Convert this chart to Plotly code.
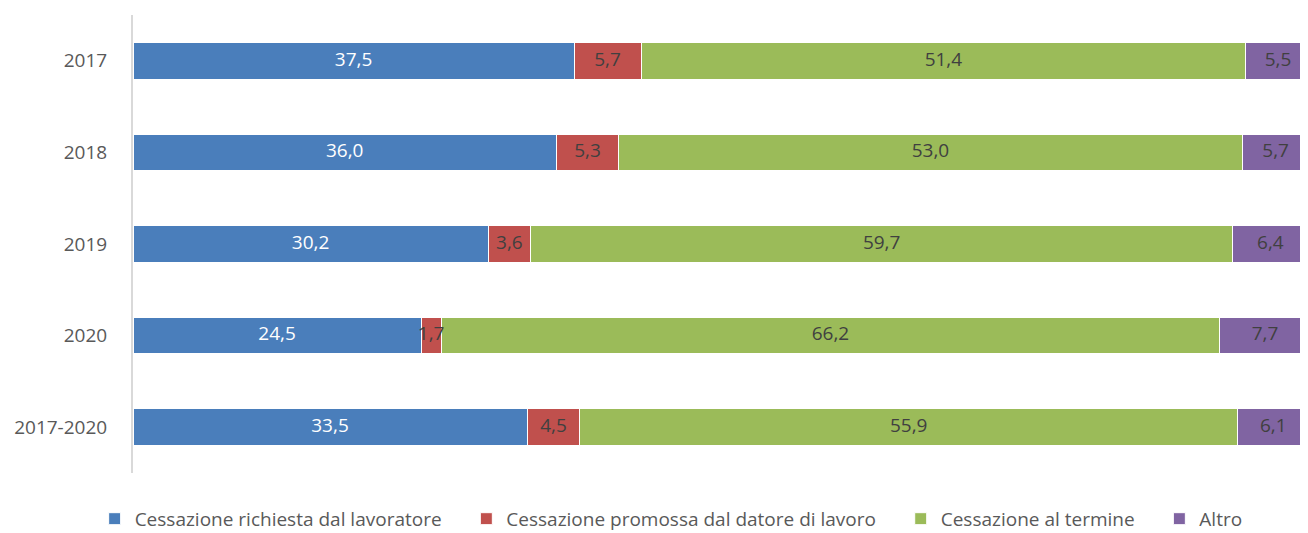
import plotly.graph_objects as go
import numpy as np

categories = ["2017", "2018", "2019", "2020", "2017-2020"]
series_names = [
    "Cessazione richiesta dal lavoratore",
    "Cessazione promossa dal datore di lavoro",
    "Cessazione al termine",
    "Altro",
]
richiesta = [37.5, 36.0, 30.2, 24.5, 33.5]
promossa = [5.7, 5.3, 3.6, 1.7, 4.5]
termine = [51.4, 53.0, 59.7, 66.2, 55.9]
altro = [5.5, 5.7, 6.4, 7.7, 6.1]

colors = ["#4A7EBB", "#C0504D", "#9BBB59", "#8064A2"]
label_colors = ["#FFFFFF", "#404040", "#404040", "#404040"]
FONT = "Open Sans"
PAD = "\u00a0" * 4

fig = go.Figure()
all_series = [richiesta, promossa, termine, altro]
for i, (name, vals, col) in enumerate(zip(series_names, all_series, colors)):
    fig.add_trace(go.Bar(
        y=categories, x=vals, name=name + (PAD if i < 3 else ""), orientation="h",
        marker=dict(color=col, line=dict(color="#FFFFFF", width=1)),
        width=0.40, hoverinfo="x+name",
    ))

base = np.zeros(len(categories))
for vals, tcol in zip(all_series, label_colors):
    v = np.array(vals)
    mids = base + v / 2
    base = base + v
    fig.add_trace(go.Scatter(
        y=categories, x=mids, mode="text",
        text=[f"{x:.1f}".replace(".", ",") for x in vals],
        textposition="middle center",
        textfont=dict(family=FONT, size=19, color=tcol),
        showlegend=False, hoverinfo="skip", cliponaxis=False,
    ))

fig.update_layout(
    barmode="stack",
    width=1300, height=525,
    margin=dict(l=125, r=0, t=7, b=60, autoexpand=False),
    paper_bgcolor="white", plot_bgcolor="white",
    font=dict(family=FONT, size=19, color="#595959"),
    xaxis=dict(range=[0, 99.9], showgrid=False, showticklabels=False,
               zeroline=False, showline=False, fixedrange=True, automargin=False),
    yaxis=dict(categoryorder="array", categoryarray=categories,
               autorange="reversed", showgrid=False, zeroline=False,
               showline=True, linecolor="#D9D9D9", linewidth=2,
               ticks="", ticklabelstandoff=20, automargin=False,
               tickfont=dict(family=FONT, size=19, color="#595959")),
    legend=dict(orientation="h", x=0.458, xanchor="center",
                yref="container", y=0.027, yanchor="middle",
                font=dict(family=FONT, size=19, color="#595959"),
                traceorder="normal", itemwidth=30),
    showlegend=True,
)

fig.write_html("out.html")
